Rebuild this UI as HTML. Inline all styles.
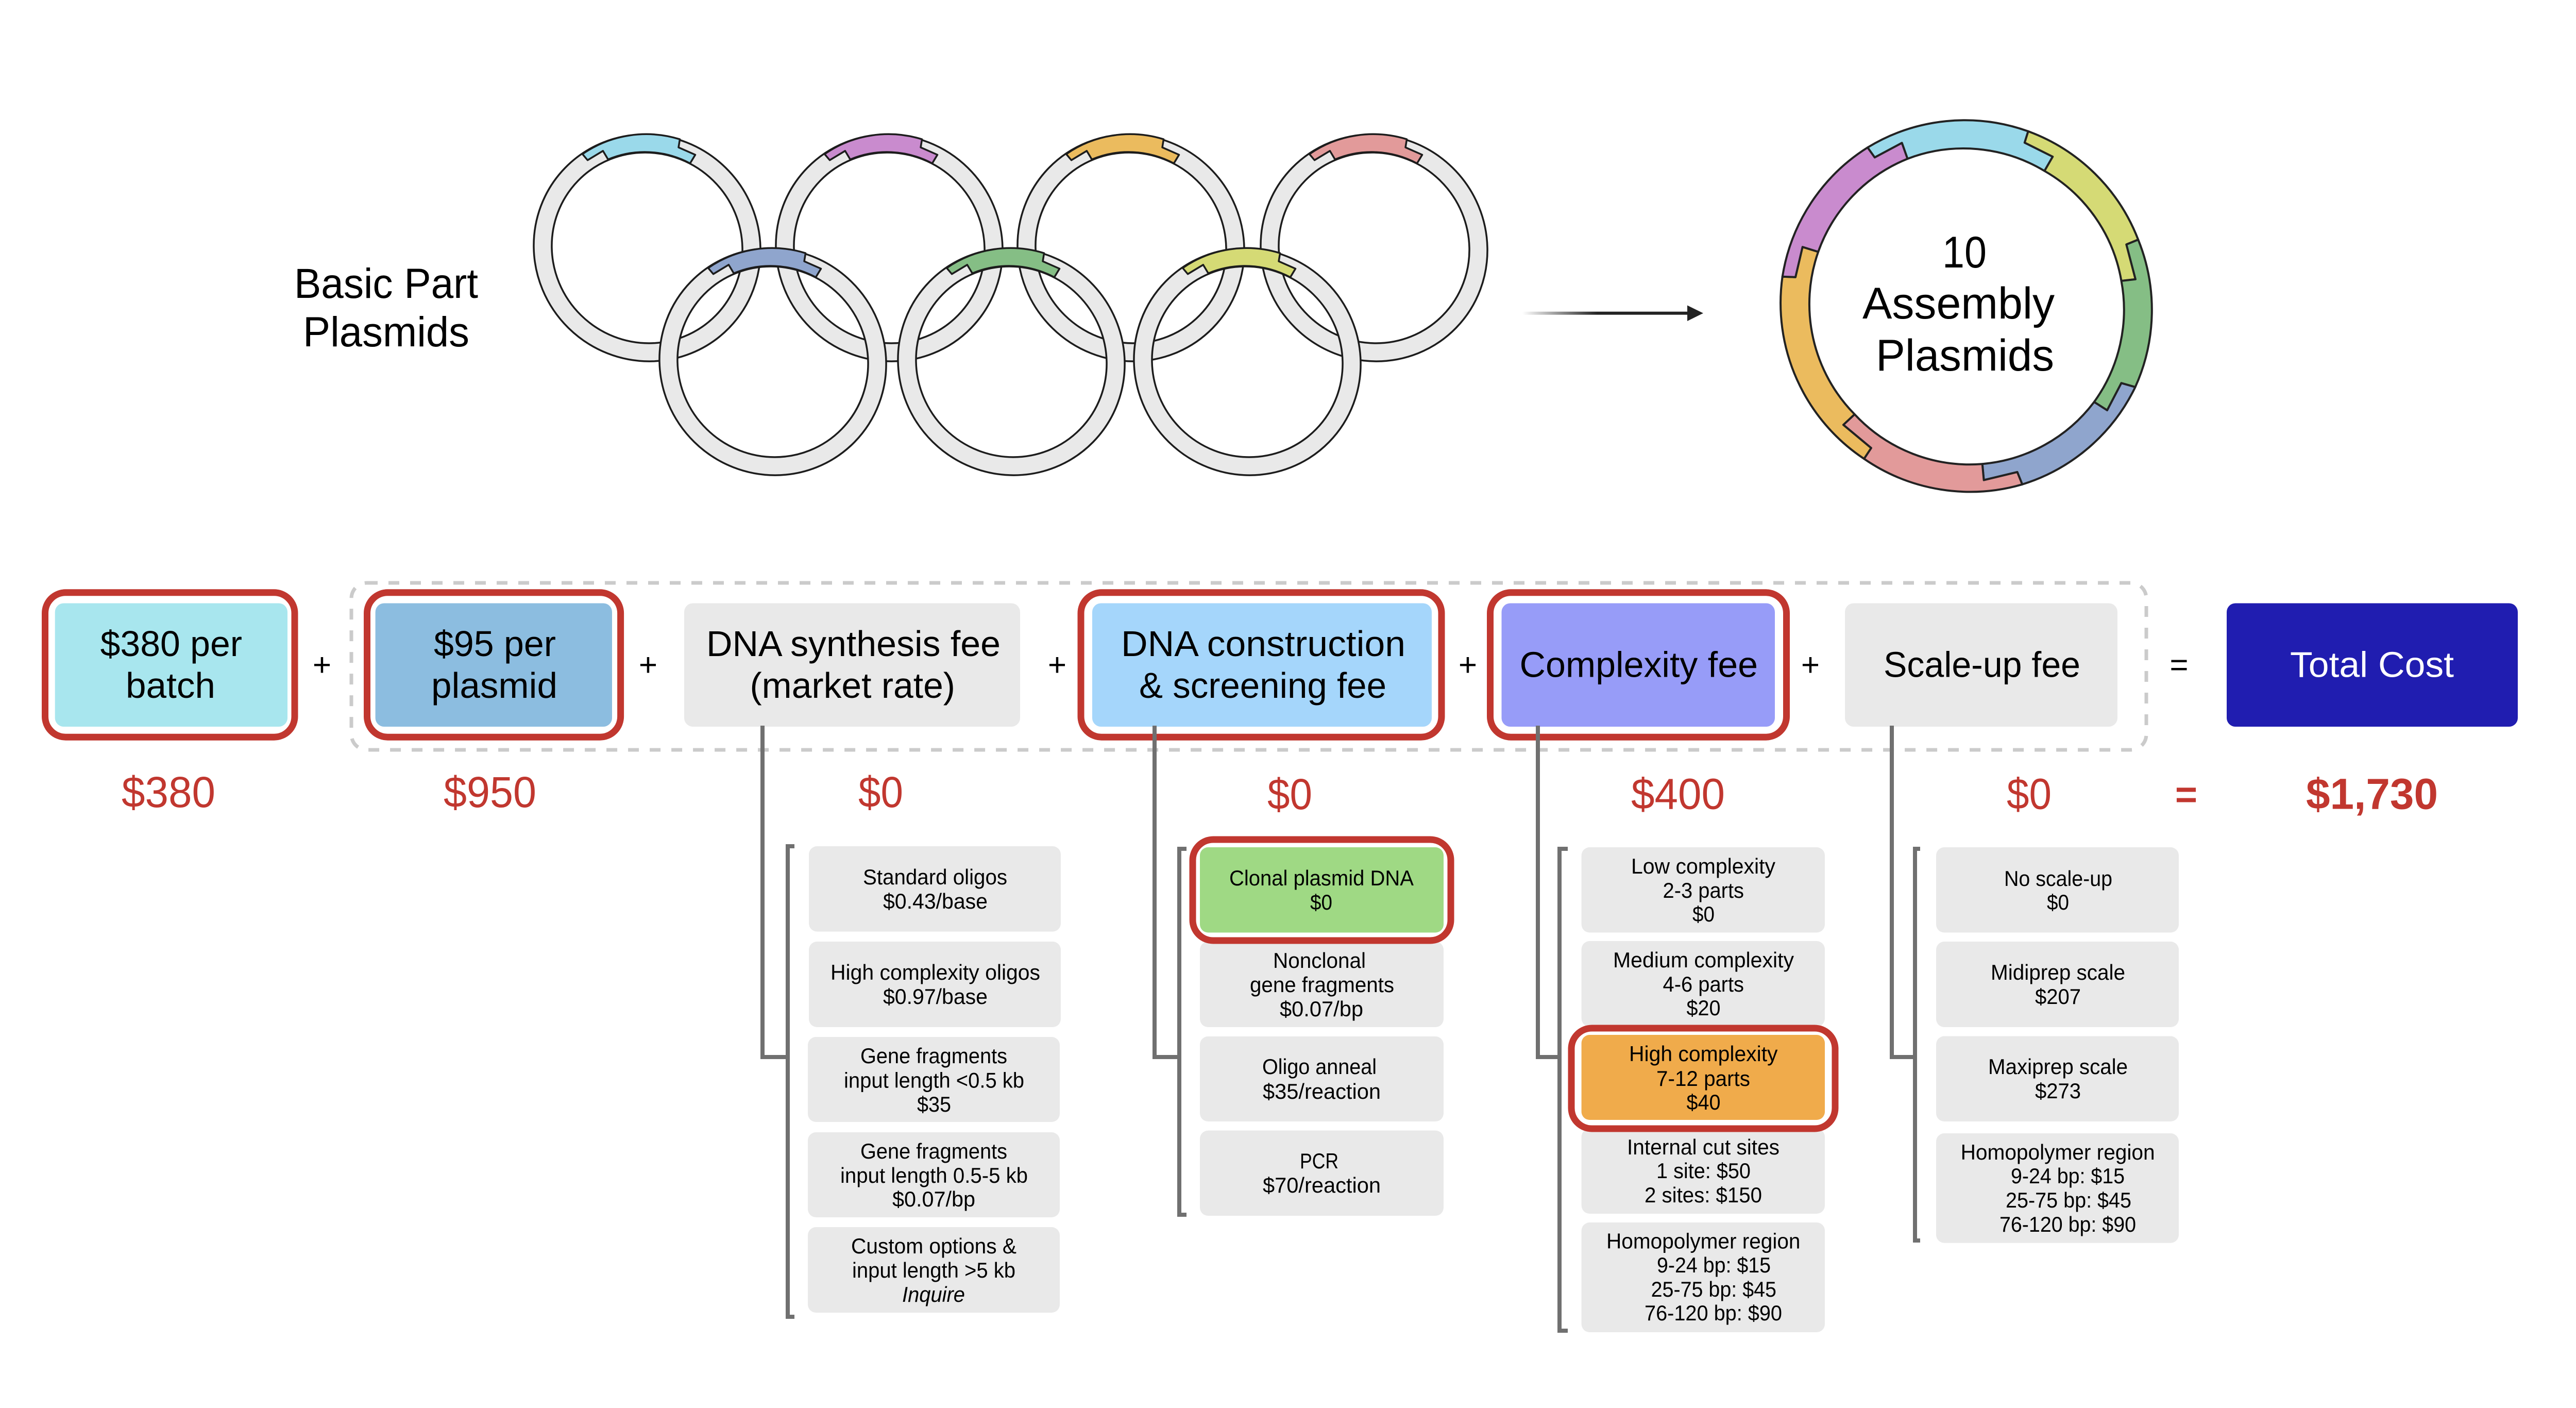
<!DOCTYPE html>
<html><head><meta charset="utf-8"><title>Cost diagram</title>
<style>
html,body{margin:0;padding:0;background:#fff;width:5025px;height:2732px;overflow:hidden}
svg{display:block}
text{font-family:"Liberation Sans",sans-serif;fill:#000}
.s{font-size:42px}
.b{font-size:70px}
.c{font-size:84px;fill:#c1372f}
.g{fill:#e9e9e9}
.red{fill:#fff;stroke:#c1372f;stroke-width:13}
.con{fill:none;stroke:#707070;stroke-width:8}
</style></head><body>
<svg xmlns="http://www.w3.org/2000/svg" width="5025" height="2732" viewBox="0 0 5025 2732">
<defs>
<linearGradient id="fade" gradientUnits="userSpaceOnUse" x1="2955" y1="0" x2="3100" y2="0"><stop offset="0" stop-color="#222" stop-opacity="0"/><stop offset="1" stop-color="#222"/></linearGradient>
<g id="ring" transform="skewX(1.17)" stroke="#1c1c1c" stroke-width="3.5" stroke-linejoin="round">
<path fill="#e9e9e9" fill-rule="evenodd" d="M-220 0A220 220 0 1 1 220 0A220 220 0 1 1 -220 0ZM-185 0A185 185 0 1 0 185 0A185 185 0 1 0 -185 0Z"/>
</g>
<path id="seg" transform="skewX(1.17)" stroke="#1c1c1c" stroke-width="3.5" stroke-linejoin="round" d="M-121.7-182A220 220 0 0 1 67.9-210.8L65-195 97.2-180.7 86.8-164A185 185 0 0 0 -72.2-171.6L-81.8-188.3 -112-170.2Z"/>
</defs>

<!-- small plasmids -->
<g transform="translate(1256,481)"><use href="#ring"/><use href="#seg" fill="#9ad9ea"/></g>
<g transform="translate(1726,481)"><use href="#ring"/><use href="#seg" fill="#c98bce"/></g>
<g transform="translate(2195,481)"><use href="#ring"/><use href="#seg" fill="#ebbb5e"/></g>
<g transform="translate(2667,481)"><use href="#ring"/><use href="#seg" fill="#e29a9a"/></g>
<g transform="translate(1500,702)"><use href="#ring"/><use href="#seg" fill="#8fa5cd"/></g>
<g transform="translate(1963,702)"><use href="#ring"/><use href="#seg" fill="#85be85"/></g>
<g transform="translate(2421,702)"><use href="#ring"/><use href="#seg" fill="#d5da75"/></g>

<text x="571" y="578" font-size="82" textLength="357" lengthAdjust="spacingAndGlyphs">Basic Part</text>
<text x="588" y="672" font-size="82" textLength="323" lengthAdjust="spacingAndGlyphs">Plasmids</text>

<!-- arrow -->
<rect x="2955" y="604.7" width="322" height="6" fill="url(#fade)"/>
<path d="M3275 592.5L3306 607.7 3275 623Z" fill="#222"/>

<!-- assembly plasmid -->
<g stroke="#222" stroke-width="4" stroke-linejoin="round">
<path fill="#9ad9ea" d="M3625 286.2A363 363 0 0 1 3936.7 254.8L3929.8 276.8 3984.3 304 3968.3 331.7A305 305 0 0 0 3702.5 308.1L3691.6 277.3 3638.8 305.5Z"/>
<path fill="#d5da75" d="M3936.7 254.8A363 363 0 0 1 4150.2 465L4127.3 474.4 4145 541.9 4117.5 545A305 305 0 0 0 3968.3 331.7L3984.3 304 3929.8 276.8Z"/>
<path fill="#85be85" d="M4150.2 465A363 363 0 0 1 4144.5 751.1L4117.5 743.3 4090 796.1 4064.7 779.9A305 305 0 0 0 4117.5 545L4145 541.9 4127.3 474.4Z"/>
<path fill="#8fa5cd" d="M4144.5 751.1A363 363 0 0 1 3925.2 939.9L3915.5 915.9 3850.6 931.6 3847.7 900.2A305 305 0 0 0 4064.7 779.9L4090 796.1 4117.5 743.3Z"/>
<path fill="#e29a9a" d="M3925.2 939.9A363 363 0 0 1 3618.1 890.2L3631.9 869.3 3577.9 824.3 3599.8 803.9A305 305 0 0 0 3847.7 900.2L3850.6 931.6 3915.5 915.9Z"/>
<path fill="#ebbb5e" d="M3618.1 890.2A363 363 0 0 1 3459.7 536.7L3485 537.7 3498.7 479.2 3529.2 488.6A305 305 0 0 0 3599.8 803.9L3577.9 824.3 3631.9 869.3Z"/>
<path fill="#c98bce" d="M3459.7 536.7A363 363 0 0 1 3625 286.2L3638.8 305.5 3691.6 277.3 3702.5 308.1A305 305 0 0 0 3529.2 488.6L3498.7 479.2 3485 537.7Z"/>
</g>
<text x="3770" y="519" font-size="86" textLength="86" lengthAdjust="spacingAndGlyphs">10</text>
<text x="3615" y="618" font-size="86" textLength="373" lengthAdjust="spacingAndGlyphs">Assembly</text>
<text x="3641" y="719" font-size="86" textLength="346" lengthAdjust="spacingAndGlyphs">Plasmids</text>

<!-- dashed group -->
<rect x="682" y="1131" width="3484" height="324" rx="30" fill="none" stroke="#cbcbcb" stroke-width="7" stroke-dasharray="21 21"/>

<!-- red highlights top row -->
<rect class="red" x="87.5" y="1149.8" width="484.5" height="280.4" rx="40"/>
<rect class="red" x="712.5" y="1149.8" width="492.1" height="280.4" rx="40"/>
<rect class="red" x="2098" y="1149.8" width="700" height="280.4" rx="40"/>
<rect class="red" x="2892.5" y="1149.8" width="575" height="280.4" rx="40"/>

<!-- top boxes -->
<rect x="106.7" y="1170.5" width="451.3" height="239.5" rx="17" fill="#a8e6ee"/>
<rect x="728.6" y="1170.5" width="459.4" height="239.5" rx="17" fill="#8cbde0"/>
<rect x="1328" y="1170.5" width="652" height="239.5" rx="17" fill="#e9e9e9"/>
<rect x="2120" y="1170.5" width="659" height="239.5" rx="17" fill="#a5d6fb"/>
<rect x="2914.5" y="1170.5" width="530.5" height="239.5" rx="17" fill="#979cf8"/>
<rect x="3581" y="1170.5" width="529" height="239.5" rx="17" fill="#e9e9e9"/>
<rect x="4322" y="1170.5" width="565" height="239.5" rx="17" fill="#201db0"/>

<text class="b" x="194.6" y="1273" textLength="275.4" lengthAdjust="spacingAndGlyphs">$380 per</text>
<text class="b" x="244" y="1354" textLength="174" lengthAdjust="spacingAndGlyphs">batch</text>
<text class="b" x="842" y="1273" textLength="237" lengthAdjust="spacingAndGlyphs">$95 per</text>
<text class="b" x="837" y="1354" textLength="245" lengthAdjust="spacingAndGlyphs">plasmid</text>
<text class="b" x="1371" y="1273" textLength="571" lengthAdjust="spacingAndGlyphs">DNA synthesis fee</text>
<text class="b" x="1455.5" y="1354" textLength="398.5" lengthAdjust="spacingAndGlyphs">(market rate)</text>
<text class="b" x="2176" y="1273" textLength="552" lengthAdjust="spacingAndGlyphs">DNA construction</text>
<text class="b" x="2211" y="1354" textLength="480" lengthAdjust="spacingAndGlyphs">&amp; screening fee</text>
<text class="b" x="2949.5" y="1313.5" textLength="462.5" lengthAdjust="spacingAndGlyphs">Complexity fee</text>
<text class="b" x="3656" y="1313.5" textLength="382" lengthAdjust="spacingAndGlyphs">Scale-up fee</text>
<text class="b" x="4445" y="1313.5" textLength="318" lengthAdjust="spacingAndGlyphs" style="fill:#fff">Total Cost</text>

<!-- operators -->
<g font-size="62" text-anchor="middle">
<text x="625" y="1311">+</text><text x="1258" y="1311">+</text><text x="2052" y="1311">+</text><text x="2849" y="1311">+</text><text x="3514" y="1311">+</text><text x="4229.5" y="1311">=</text>
</g>

<!-- red totals -->
<text class="c" x="236" y="1566" textLength="182" lengthAdjust="spacingAndGlyphs">$380</text>
<text class="c" x="861" y="1566" textLength="180" lengthAdjust="spacingAndGlyphs">$950</text>
<text class="c" x="1666" y="1566" textLength="87" lengthAdjust="spacingAndGlyphs">$0</text>
<text class="c" x="2460" y="1570" textLength="87" lengthAdjust="spacingAndGlyphs">$0</text>
<text class="c" x="3166" y="1569.5" textLength="182" lengthAdjust="spacingAndGlyphs">$400</text>
<text class="c" x="3895" y="1569.5" textLength="87" lengthAdjust="spacingAndGlyphs">$0</text>
<text class="c" x="4476" y="1569.5" textLength="256" lengthAdjust="spacingAndGlyphs" style="font-weight:bold">$1,730</text>
<text class="c" x="4243.5" y="1567" text-anchor="middle" style="font-weight:bold;font-size:74px">=</text>

<!-- sub boxes -->
<g class="g">
<rect x="1570" y="1642" width="489" height="165.6" rx="16"/>
<rect x="1570" y="1827" width="489" height="166" rx="16"/>
<rect x="1568" y="2012" width="489" height="165" rx="16"/>
<rect x="1568" y="2197" width="489" height="165" rx="16"/>
<rect x="1568" y="2381" width="489" height="166" rx="16"/>
<rect x="2329" y="1827" width="473" height="166" rx="16"/>
<rect x="2329" y="2011" width="473" height="165" rx="16"/>
<rect x="2329" y="2193.6" width="473" height="165.4" rx="16"/>
<rect x="3069.6" y="1644" width="472.4" height="165.5" rx="16"/>
<rect x="3069.6" y="1826" width="472.4" height="166" rx="16"/>
<rect x="3069.6" y="2190" width="472.4" height="165" rx="16"/>
<rect x="3069.6" y="2372" width="472.4" height="213" rx="16"/>
<rect x="3758" y="1644" width="471" height="165.5" rx="16"/>
<rect x="3758" y="1827" width="471" height="166" rx="16"/>
<rect x="3758" y="2010.5" width="471" height="165.5" rx="16"/>
<rect x="3758" y="2199" width="471" height="212.7" rx="16"/>
</g>
<rect class="red" x="2315" y="1629" width="501" height="196" rx="40"/>
<rect class="red" x="3050" y="1995" width="512" height="195" rx="40"/>
<rect x="2329" y="1644" width="473" height="165.5" rx="16" fill="#9fd984"/>
<rect x="3069.6" y="2008" width="472.4" height="165" rx="16" fill="#f0ab4b"/>

<!-- connectors -->
<path class="con" d="M1480 1408V2051H1526M1542 1642H1529V2555H1542"/>
<path class="con" d="M2241 1408V2051H2287M2303 1647H2289V2357H2303"/>
<path class="con" d="M2985 1408V2051H3026M3043 1647H3027V2582H3043"/>
<path class="con" d="M3672 1408V2051H3716M3727 1647H3717V2407H3727"/>

<!-- sub labels -->
<g>
<text class="s" x="1675" y="1716" textLength="280" lengthAdjust="spacingAndGlyphs">Standard oligos</text>
<text class="s" x="1714" y="1763" textLength="203" lengthAdjust="spacingAndGlyphs">$0.43/base</text>
<text class="s" x="1612" y="1901" textLength="407" lengthAdjust="spacingAndGlyphs">High complexity oligos</text>
<text class="s" x="1714" y="1948" textLength="203" lengthAdjust="spacingAndGlyphs">$0.97/base</text>
<text class="s" x="1670" y="2063" textLength="285" lengthAdjust="spacingAndGlyphs">Gene fragments</text>
<text class="s" x="1638" y="2110.6" textLength="350" lengthAdjust="spacingAndGlyphs">input length &lt;0.5 kb</text>
<text class="s" x="1780" y="2157" textLength="66" lengthAdjust="spacingAndGlyphs">$35</text>
<text class="s" x="1670" y="2248" textLength="285" lengthAdjust="spacingAndGlyphs">Gene fragments</text>
<text class="s" x="1631" y="2295" textLength="364" lengthAdjust="spacingAndGlyphs">input length 0.5-5 kb</text>
<text class="s" x="1732" y="2341" textLength="161" lengthAdjust="spacingAndGlyphs">$0.07/bp</text>
<text class="s" x="1652" y="2432" textLength="321" lengthAdjust="spacingAndGlyphs">Custom options &amp;</text>
<text class="s" x="1654" y="2479" textLength="317" lengthAdjust="spacingAndGlyphs">input length &gt;5 kb</text>
<text class="s" x="1751" y="2526" textLength="122" lengthAdjust="spacingAndGlyphs" font-style="italic">Inquire</text>

<text class="s" x="2386" y="1718" textLength="358" lengthAdjust="spacingAndGlyphs">Clonal plasmid DNA</text>
<text class="s" x="2543" y="1765" textLength="43" lengthAdjust="spacingAndGlyphs">$0</text>
<text class="s" x="2471" y="1878" textLength="180" lengthAdjust="spacingAndGlyphs">Nonclonal</text>
<text class="s" x="2426" y="1925" textLength="280" lengthAdjust="spacingAndGlyphs">gene fragments</text>
<text class="s" x="2484" y="1972" textLength="162" lengthAdjust="spacingAndGlyphs">$0.07/bp</text>
<text class="s" x="2450" y="2084" textLength="222" lengthAdjust="spacingAndGlyphs">Oligo anneal</text>
<text class="s" x="2451" y="2132" textLength="229" lengthAdjust="spacingAndGlyphs">$35/reaction</text>
<text class="s" x="2523" y="2267" textLength="75" lengthAdjust="spacingAndGlyphs">PCR</text>
<text class="s" x="2451" y="2314" textLength="229" lengthAdjust="spacingAndGlyphs">$70/reaction</text>

<text class="s" x="3166" y="1695" textLength="280" lengthAdjust="spacingAndGlyphs">Low complexity</text>
<text class="s" x="3227.5" y="1742" textLength="157.5" lengthAdjust="spacingAndGlyphs">2-3 parts</text>
<text class="s" x="3285" y="1788" textLength="43" lengthAdjust="spacingAndGlyphs">$0</text>
<text class="s" x="3131" y="1877" textLength="351" lengthAdjust="spacingAndGlyphs">Medium complexity</text>
<text class="s" x="3227.5" y="1924" textLength="157.5" lengthAdjust="spacingAndGlyphs">4-6 parts</text>
<text class="s" x="3273.5" y="1970" textLength="66" lengthAdjust="spacingAndGlyphs">$20</text>
<text class="s" x="3162" y="2059" textLength="288.5" lengthAdjust="spacingAndGlyphs">High complexity</text>
<text class="s" x="3215" y="2107" textLength="182" lengthAdjust="spacingAndGlyphs">7-12 parts</text>
<text class="s" x="3273.5" y="2153" textLength="66" lengthAdjust="spacingAndGlyphs">$40</text>
<text class="s" x="3158" y="2240" textLength="296" lengthAdjust="spacingAndGlyphs">Internal cut sites</text>
<text class="s" x="3215" y="2286" textLength="183" lengthAdjust="spacingAndGlyphs">1 site: $50</text>
<text class="s" x="3192" y="2333" textLength="228" lengthAdjust="spacingAndGlyphs">2 sites: $150</text>
<text class="s" x="3118" y="2422.6" textLength="376.5" lengthAdjust="spacingAndGlyphs">Homopolymer region</text>
<text class="s" x="3216" y="2469" textLength="221" lengthAdjust="spacingAndGlyphs">9-24 bp: $15</text>
<text class="s" x="3204.6" y="2516" textLength="243.4" lengthAdjust="spacingAndGlyphs">25-75 bp: $45</text>
<text class="s" x="3192" y="2562" textLength="267" lengthAdjust="spacingAndGlyphs">76-120 bp: $90</text>

<text class="s" x="3890" y="1719" textLength="210" lengthAdjust="spacingAndGlyphs">No scale-up</text>
<text class="s" x="3973" y="1765" textLength="43" lengthAdjust="spacingAndGlyphs">$0</text>
<text class="s" x="3864" y="1901" textLength="261" lengthAdjust="spacingAndGlyphs">Midiprep scale</text>
<text class="s" x="3950" y="1948" textLength="89" lengthAdjust="spacingAndGlyphs">$207</text>
<text class="s" x="3859" y="2084" textLength="271" lengthAdjust="spacingAndGlyphs">Maxiprep scale</text>
<text class="s" x="3950" y="2131" textLength="89" lengthAdjust="spacingAndGlyphs">$273</text>
<text class="s" x="3805.6" y="2250" textLength="377" lengthAdjust="spacingAndGlyphs">Homopolymer region</text>
<text class="s" x="3903" y="2296" textLength="221" lengthAdjust="spacingAndGlyphs">9-24 bp: $15</text>
<text class="s" x="3893" y="2343" textLength="244" lengthAdjust="spacingAndGlyphs">25-75 bp: $45</text>
<text class="s" x="3881" y="2390" textLength="265" lengthAdjust="spacingAndGlyphs">76-120 bp: $90</text>
</g>
</svg>
</body></html>
